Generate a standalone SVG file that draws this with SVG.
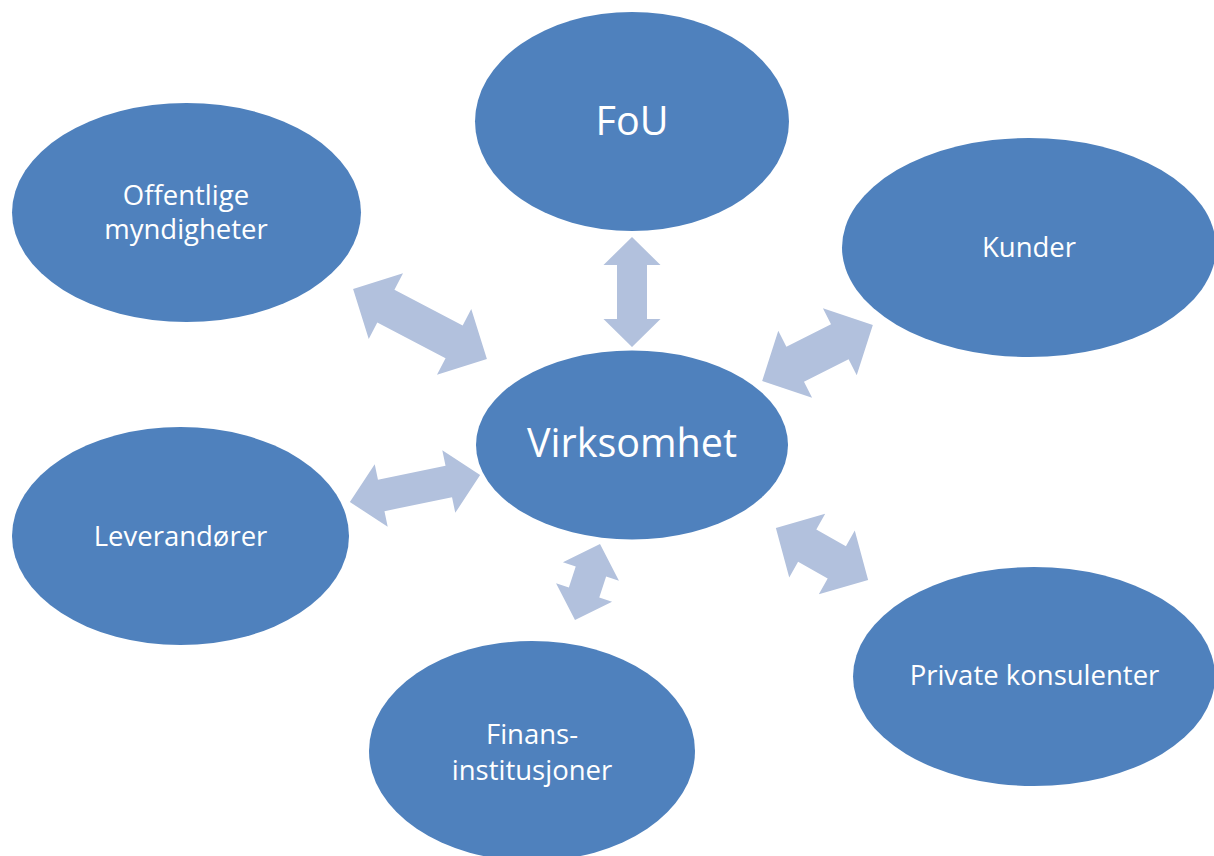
<svg xmlns="http://www.w3.org/2000/svg" width="1214" height="856" viewBox="0 0 1214 856">
<style>
.node{fill:#4F81BD}
.arr{fill:#B2C1DD}
.t{fill:#FFFFFF;font-family:"Open Sans","Noto Sans","DejaVu Sans",sans-serif;text-anchor:middle}
.big{font-size:39.5px}
.small{font-size:27.5px}
</style>
<rect width="1214" height="856" fill="#FFFFFF"/>
<g id="connectors">
<polygon class="arr" transform="translate(420,324) rotate(27.6)" points="-75.5,0 -38.5,-37 -38.5,-18.5 38.5,-18.5 38.5,-37 75.5,0 38.5,37 38.5,18.5 -38.5,18.5 -38.5,37"/>
<polygon class="arr" transform="translate(632,292) rotate(90)" points="-55,0 -27,-28.5 -27,-15 27,-15 27,-28.5 55,0 27,28.5 27,15 -27,15 -27,28.5"/>
<polygon class="arr" transform="translate(817.5,353) rotate(-26.8)" points="-62,0 -25,-37.5 -25,-19.5 25,-19.5 25,-37.5 62,0 25,37.5 25,19.5 -25,19.5 -25,37.5"/>
<polygon class="arr" transform="translate(415,488.5) rotate(-11.7)" points="-66.5,0 -34.5,-32 -34.5,-16 34.5,-16 34.5,-32 66.5,0 34.5,32 34.5,16 -34.5,16 -34.5,32"/>
<polygon class="arr" transform="translate(587.5,582) rotate(108.2)" points="-40,0 -11,-29.5 -11,-16 11,-16 11,-29.5 40,0 11,29.5 11,16 -11,16 -11,29.5"/>
<polygon class="arr" transform="translate(822,554) rotate(29.5)" points="-53,0 -17,-36.5 -17,-18.5 17,-18.5 17,-36.5 53,0 17,36.5 17,18.5 -17,18.5 -17,36.5"/>
</g>
<g id="node-fou">
<ellipse class="node" cx="632" cy="121.5" rx="157" ry="109.5"/>
<text class="t big" x="632" y="135">FoU</text>
</g>
<g id="node-offentlige">
<ellipse class="node" cx="186.5" cy="212.5" rx="174.5" ry="109.5"/>
<text class="t small" x="186" y="205">Offentlige</text>
<text class="t small" x="186" y="239">myndigheter</text>
</g>
<g id="node-kunder">
<ellipse class="node" cx="1029" cy="247.5" rx="187" ry="109.5"/>
<text class="t small" x="1029" y="257">Kunder</text>
</g>
<g id="node-virksomhet">
<ellipse class="node" cx="632" cy="445" rx="156" ry="94.5"/>
<text class="t big" x="632" y="457">Virksomhet</text>
</g>
<g id="node-leverandorer">
<ellipse class="node" cx="180.5" cy="536" rx="168.5" ry="109"/>
<text class="t small" x="180.5" y="546">Leverandører</text>
</g>
<g id="node-private">
<ellipse class="node" cx="1034" cy="676.5" rx="181" ry="109.5"/>
<text class="t small" x="1034.5" y="685">Private konsulenter</text>
</g>
<g id="node-finans">
<ellipse class="node" cx="532" cy="751" rx="163" ry="110"/>
<text class="t small" x="532" y="744">Finans-</text>
<text class="t small" x="532" y="780">institusjoner</text>
</g>
</svg>
